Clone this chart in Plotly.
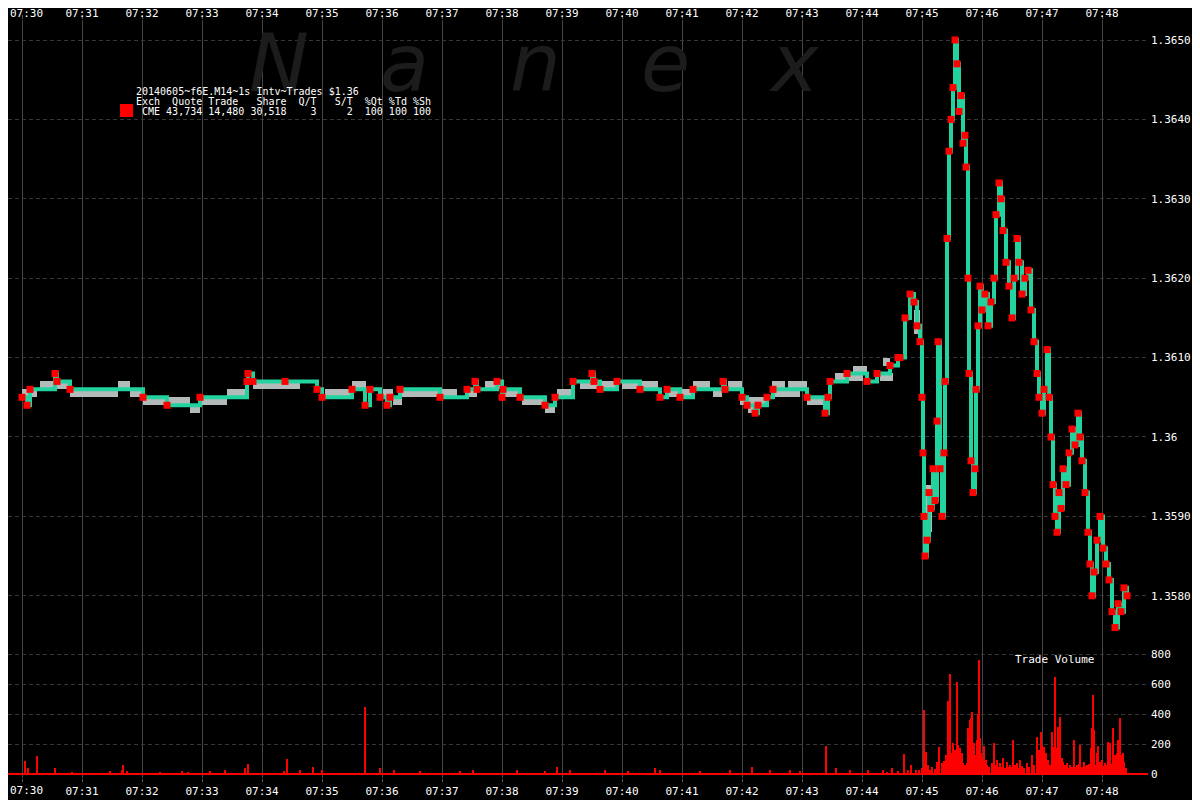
import pandas as pd
import plotly.graph_objects as go

BASE = pd.Timestamp("2014-06-05 07:30:00")

# ---- trade prices (seconds after 07:30:00, price) ----
trade_sec = [0, 5, 8, 33, 35, 48, 121, 145, 178, 225, 226, 231, 263, 295, 300, 330, 343, 348, 358, 365,
             368, 378, 418, 445, 453, 455, 475, 480, 481, 498, 523, 533, 551, 570, 572, 578, 595, 618, 638, 645,
             658, 671, 701, 703, 720, 725, 733, 736, 745, 751, 785, 803, 806, 808, 825, 845, 855, 868, 876,
             878, 883, 888, 892, 895, 898, 900, 901, 902, 903, 905, 907, 909, 911, 913, 915, 916, 918, 920, 922,
             923, 925, 927, 929, 931, 933, 935, 937, 939, 941, 943, 944, 946, 947, 949, 951, 953, 954, 956, 958,
             960, 963, 966, 969, 972, 974, 977, 979, 981, 984, 987, 990, 992, 995, 997, 1000, 1003, 1006, 1009,
             1012, 1015, 1017, 1020, 1022, 1025, 1027, 1029, 1031, 1033, 1035, 1037, 1039, 1041, 1044, 1047,
             1050, 1053, 1056, 1058, 1060, 1063, 1066, 1068, 1070, 1072, 1075, 1078, 1081, 1084, 1087, 1090,
             1093, 1096, 1099, 1102, 1105]
trade_px = [1.3605, 1.3604, 1.3606, 1.3608, 1.3607, 1.3606, 1.3605, 1.3604, 1.3605, 1.3607, 1.3608, 1.3607,
            1.3607, 1.3606, 1.3605, 1.3606, 1.3604, 1.3606, 1.3605, 1.3604, 1.3605, 1.3606, 1.3605, 1.3606,
            1.3607, 1.3606, 1.3607, 1.3605, 1.3606, 1.3605, 1.3604, 1.3605, 1.3607, 1.3608, 1.3607, 1.3606,
            1.3607, 1.3606, 1.3605, 1.3606, 1.3605, 1.3606, 1.3607, 1.3606, 1.3605, 1.3604, 1.3603, 1.3604,
            1.3605, 1.3606, 1.3605, 1.3603, 1.3605, 1.3607, 1.3608, 1.3607, 1.3608, 1.3609, 1.3610,
            1.3610, 1.3615, 1.3618, 1.3617, 1.3614, 1.3612, 1.3605, 1.3598, 1.3590, 1.3585, 1.3587, 1.3593,
            1.3591, 1.3596, 1.3592, 1.3602, 1.3612, 1.3596, 1.3590, 1.3598,
            1.3607, 1.3625, 1.3636, 1.3640, 1.3644, 1.3650, 1.3647, 1.3641, 1.3643, 1.3637, 1.3638, 1.3634,
            1.3620, 1.3608, 1.3597, 1.3593, 1.3596, 1.3606, 1.3614, 1.3619,
            1.3616, 1.3618, 1.3614, 1.3617, 1.3620, 1.3628, 1.3632, 1.3630, 1.3626, 1.3622, 1.3619, 1.3615,
            1.3620, 1.3625, 1.3622, 1.3618, 1.3620, 1.3621, 1.3616,
            1.3612, 1.3608, 1.3605, 1.3603, 1.3606, 1.3611, 1.3605, 1.3600, 1.3594, 1.3590, 1.3588, 1.3593,
            1.3591, 1.3596, 1.3594, 1.3598,
            1.3601, 1.3599, 1.3603, 1.3600, 1.3597, 1.3593, 1.3588, 1.3584, 1.3580, 1.3583, 1.3587, 1.3590,
            1.3586, 1.3584, 1.3582, 1.3578,
            1.3576, 1.3579, 1.3578, 1.3581, 1.3580]

# ---- quote spread boxes (start sec, end sec, bid, ask) ----
quote_start = [0, 18, 48, 96, 108, 121, 168, 178, 205, 231, 303, 330, 361, 371, 380, 418, 445, 463, 483, 500,
               523, 535, 558, 578, 600, 620, 645, 671, 691, 706, 718, 726, 750, 751, 763, 766, 785, 813, 831,
               858, 861, 892, 904]
quote_end = [15, 48, 96, 108, 121, 168, 178, 205, 223, 278, 330, 344, 371, 380, 416, 435, 455, 478, 500, 523,
             533, 551, 576, 595, 616, 636, 673, 688, 700, 720, 743, 735, 763, 763, 778, 785, 808, 841, 845,
             871, 868, 898, 910]
quote_bid = [1.3605, 1.3606, 1.3605, 1.3606, 1.3605, 1.3604, 1.3603, 1.3604, 1.3605, 1.3606, 1.3605, 1.3606,
             1.3605, 1.3604, 1.3605, 1.3605, 1.3605, 1.3606, 1.3605, 1.3604, 1.3603, 1.3605, 1.3606, 1.3606,
             1.3606, 1.3606, 1.3605, 1.3606, 1.3605, 1.3606, 1.3604, 1.3603, 1.3606, 1.3605, 1.3605, 1.3606,
             1.3604, 1.3607, 1.3608, 1.3607, 1.3609, 1.3613, 1.3588]
quote_ask = [1.3606, 1.3607, 1.3606, 1.3607, 1.3606, 1.3605, 1.3604, 1.3605, 1.3606, 1.3607, 1.3606, 1.3607,
             1.3606, 1.3605, 1.3606, 1.3606, 1.3606, 1.3607, 1.3606, 1.3605, 1.3604, 1.3606, 1.3607, 1.3607,
             1.3607, 1.3607, 1.3606, 1.3607, 1.3606, 1.3607, 1.3605, 1.3604, 1.3607, 1.3606, 1.3606, 1.3607,
             1.3605, 1.3608, 1.3609, 1.3608, 1.3610, 1.3616, 1.3594]

# ---- trade volume (seconds after 07:30:00, shares) ----
vol_sec = [3, 6, 15, 33, 50, 88, 100, 101, 105, 138, 160, 166, 188, 203, 223, 226, 262, 265, 278, 291, 300,
           343, 358, 372, 398, 438, 451, 495, 523, 535, 548, 583, 606, 633, 638, 678, 708, 730, 748, 768, 778,
           804, 814, 828, 846, 861, 865, 870, 876, 882, 886, 889, 894, 897, 900, 902, 904, 906, 908, 910, 913,
           915, 917, 920, 922, 924, 926, 927, 928, 930, 931, 933, 935, 936, 938, 940, 941, 943, 945, 946, 948,
           949, 950, 952, 953, 955, 956, 957, 958, 959, 960, 962, 964, 965, 967, 970, 972, 974, 975, 977, 978,
           980, 981, 983, 985, 987, 988, 990, 991, 993, 995, 996, 998, 1000, 1002, 1005, 1007, 1010, 1012,
           1015, 1017, 1019, 1020, 1022, 1024, 1026, 1028, 1030, 1032, 1033, 1035, 1036, 1038, 1040, 1041,
           1043, 1045, 1047, 1048, 1050, 1052, 1054, 1055, 1057, 1058, 1060, 1062, 1064, 1065, 1067, 1069,
           1070, 1071, 1072, 1074, 1075, 1076, 1078, 1080, 1082, 1083, 1085, 1086, 1088, 1089, 1091, 1093,
           1095, 1096, 1098, 1100, 1101, 1102, 1104]
vol_qty = [90, 40, 120, 40, 15, 20, 30, 60, 20, 15, 20, 15, 20, 25, 40, 70, 20, 100, 30, 50, 30,
           450, 40, 25, 20, 20, 25, 30, 20, 45, 30, 25, 20, 40, 25, 20, 30, 50, 25, 30, 20,
           190, 40, 25, 30, 27, 15, 38, 20, 133, 25, 60, 27, 30, 38, 427, 149, 60, 30, 45, 35,
           80, 182, 71, 90, 127, 487, 404, 669, 138, 204, 160, 611, 193, 171, 138, 71, 60, 71, 304, 360,
           376, 416, 204, 127, 227, 400, 760, 238, 138, 104, 187, 93, 60, 50, 71, 204, 60, 93, 45, 71,
           50, 104, 40, 80, 45, 60, 50, 227, 60, 71, 40, 93, 55, 40, 71, 50, 127, 60,
           249, 160, 282, 193, 178, 138, 93, 60, 282, 178, 649, 171, 316, 382, 104, 82,
           60, 71, 40, 60, 50, 227, 45, 60, 70, 193, 50, 82, 55, 60, 70, 171,
           309, 527, 293, 60, 138, 187, 80, 93, 55, 71, 60, 216, 204, 70, 304, 127,
           138, 227, 376, 127, 138, 80, 38]

price_ticks = [1.3580, 1.3590, 1.3600, 1.3610, 1.3620, 1.3630, 1.3640, 1.3650]
price_tick_text = ["1.3580", "1.3590", "1.36", "1.3610", "1.3620", "1.3630", "1.3640", "1.3650"]
vol_ticks = [0, 200, 400, 600, 800]
vol_tick_text = ["0", "200", "400", "600", "800"]
time_ticks = [BASE + pd.Timedelta(minutes=m) for m in range(19)]
time_tick_text = [t.strftime("%H:%M") for t in time_ticks]

legend_lines = [
    "20140605~f6E.M14~1s Intv~Trades $1.36",
    "Exch  Quote Trade   Share  Q/T   S/T  %Qt %Td %Sh",
    " CME 43,734 14,480 30,518    3     2  100 100 100",
]

# ---- derived values ----
t_trade = BASE + pd.to_timedelta(trade_sec, unit="s")
q_mid = [BASE + pd.Timedelta(seconds=(s + e) / 2) for s, e in zip(quote_start, quote_end)]
q_w = [(e - s) * 1000 for s, e in zip(quote_start, quote_end)]
q_h = [a - b for a, b in zip(quote_ask, quote_bid)]
t_vol = [BASE + pd.Timedelta(seconds=s) for s in vol_sec]
# the first time label sits at the very edge of the page, so it is drawn as an annotation
axis_time_text = [""] + time_tick_text[1:]

GREEN = "#22d3a0"
RED = "#ff0000"
GRAY = "#b2baba"
MONO = "DejaVu Sans Mono"

fig = go.Figure()
# volume (bottom pane, secondary y)
fig.add_trace(go.Bar(x=t_vol, y=vol_qty, width=[1200] * len(vol_qty),
                     marker=dict(color=RED, line=dict(width=0)),
                     xaxis="x", yaxis="y2", showlegend=False, hoverinfo="skip"))
# quote spread boxes
fig.add_trace(go.Bar(x=q_mid, y=q_h, base=quote_bid, width=q_w, marker=dict(color=GRAY, line=dict(width=0)),
                     xaxis="x", yaxis="y", showlegend=False, hoverinfo="skip"))
fig.add_trace(go.Scatter(x=t_trade, y=trade_px, mode="lines", line=dict(color=GREEN, width=4, shape="hv"),
                         xaxis="x", yaxis="y", showlegend=False))
fig.add_trace(go.Scatter(x=t_trade, y=trade_px, mode="markers",
                         marker=dict(symbol="square", size=7, color=RED, line=dict(width=0)),
                         xaxis="x", yaxis="y", showlegend=False))
# invisible helper so the top time axis is drawn
fig.add_trace(go.Scatter(x=time_ticks, y=[None] * len(time_ticks), mode="markers", xaxis="x2", yaxis="y",
                         showlegend=False, hoverinfo="skip", marker=dict(opacity=0)))

# The page body adds an 8 px offset, so the figure is 8 px smaller and shifted.
OFF = 8
W, H = 1200 - OFF, 800 - OFF
ml, mt = 0, 20 - OFF
pw = 1148 - OFF
ph = 758
mr = W - ml - pw
mb = H - mt - ph
xr = [BASE + pd.Timedelta(seconds=OFF - 22), BASE + pd.Timedelta(seconds=1148 - 22)]


def px(x):
    return (x - OFF - ml) / pw


def py(y):
    return (H - mb - (y - OFF)) / ph


axfont = dict(family=MONO, size=11, color="#ffffff")
fig.update_layout(
    width=W, height=H, margin=dict(l=ml, r=mr, t=mt, b=mb, autoexpand=False),
    paper_bgcolor="#000000", plot_bgcolor="#000000", barmode="overlay", bargap=0,
    showlegend=False,
    xaxis=dict(range=xr, type="date", tickvals=time_ticks, ticktext=axis_time_text, showgrid=True,
               gridcolor="#464646", gridwidth=1, ticks="outside", ticklen=3, tickcolor="#555555",
               tickfont=axfont, showline=False, zeroline=False, anchor="y", automargin=False),
    xaxis2=dict(range=xr, type="date", overlaying="x", side="top", tickvals=time_ticks, ticktext=axis_time_text,
                showgrid=False, ticks="outside", ticklen=4, tickcolor="#555555", tickfont=axfont,
                ticklabelstandoff=-6,
                showline=False, zeroline=False, anchor="y", automargin=False),
    yaxis=dict(range=[1.355705, 1.365252], side="right", tickvals=price_ticks, ticktext=price_tick_text,
               showgrid=True, gridcolor="#363636", griddash="4px,3px", zeroline=False, ticks="",
               ticklabelstandoff=2,
               tickfont=axfont, showline=False, anchor="x", automargin=False),
    yaxis2=dict(range=[-26.67, 5026.7], overlaying="y", side="right", tickvals=vol_ticks, ticktext=vol_tick_text,
                showgrid=True, gridcolor="#363636", griddash="4px,3px", zeroline=True, zerolinecolor=RED,
                zerolinewidth=2, ticks="", ticklabelstandoff=2,
                tickfont=axfont, showline=False, anchor="x", automargin=False),
)

# first time label (top and bottom), nudged inside the page edge
for yy in (13, 790):
    fig.add_annotation(text=time_tick_text[0], xref="paper", yref="paper", x=px(8), y=py(yy),
                       xanchor="left", yanchor="middle", showarrow=False, font=axfont)

# watermark
for ch, cx in zip(["N", "a", "n", "e", "x"], [279, 405, 535, 665, 794]):
    fig.add_annotation(text=ch, xref="paper", yref="paper", x=px(cx), y=py(63), xanchor="center",
                       yanchor="middle", showarrow=False, height=64, valign="middle",
                       font=dict(family="DejaVu Sans", size=80, color="#1c1c1c", style="italic"))

# legend text
for i, line in enumerate(legend_lines):
    fig.add_annotation(text=line.replace(" ", "\u00a0"), xref="paper", yref="paper", x=px(134),
                       y=py(91 + 10 * i), xanchor="left", yanchor="middle", showarrow=False, height=10,
                       valign="middle", font=dict(family=MONO, size=10, color="#ffffff"))
fig.add_shape(type="rect", xref="paper", yref="paper", x0=px(120), x1=px(133), y0=py(117), y1=py(104),
              fillcolor=RED, line=dict(width=0))

fig.add_annotation(text="Trade Volume", xref="paper", yref="paper", x=px(1013), y=py(659), xanchor="left",
                   yanchor="middle", showarrow=False, font=dict(family=MONO, size=11, color="#ffffff"))

fig.write_html("out.html")
